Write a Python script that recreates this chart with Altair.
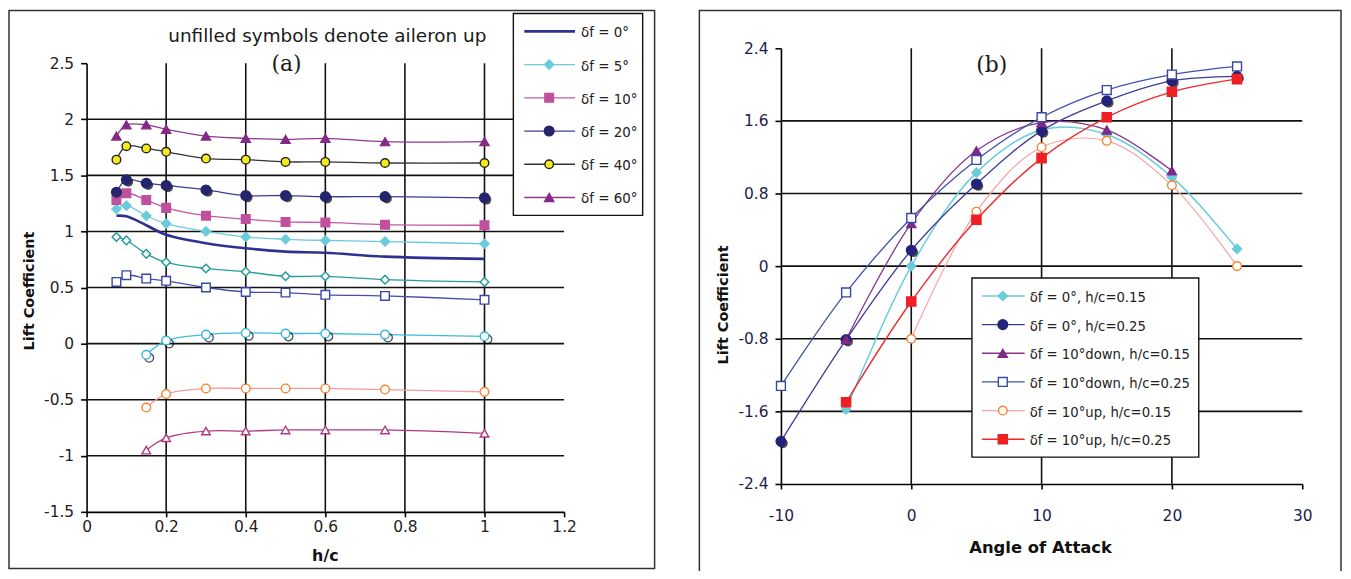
import altair as alt
import pandas as pd

# ---------------- Panel (a): lift coefficient vs h/c ----------------
hc = [0.075, 0.1, 0.15, 0.2, 0.3, 0.4, 0.5, 0.6, 0.75, 1.0]
hc_up = [0.15, 0.2, 0.3, 0.4, 0.5, 0.6, 0.75, 1.0]
a_df0 = [1.14, 1.135, 1.055, 0.97, 0.895, 0.85, 0.82, 0.81, 0.775, 0.755]
a_df5 = [1.20, 1.23, 1.14, 1.07, 1.00, 0.95, 0.93, 0.92, 0.91, 0.89]
a_df10 = [1.28, 1.34, 1.28, 1.21, 1.14, 1.11, 1.085, 1.08, 1.06, 1.055]
a_df20 = [1.35, 1.46, 1.43, 1.41, 1.37, 1.32, 1.32, 1.31, 1.31, 1.30]
a_df40 = [1.64, 1.76, 1.74, 1.71, 1.65, 1.64, 1.62, 1.62, 1.61, 1.61]
a_df60 = [1.85, 1.95, 1.95, 1.91, 1.85, 1.83, 1.82, 1.83, 1.80, 1.80]
a_up_diamond = [0.95, 0.92, 0.80, 0.725, 0.67, 0.64, 0.60, 0.60, 0.57, 0.55]
a_up_square = [0.55, 0.61, 0.58, 0.56, 0.50, 0.46, 0.455, 0.435, 0.425, 0.39]
a_up_circle_cyan = [-0.10, 0.027, 0.08, 0.095, 0.09, 0.09, 0.08, 0.065]
a_up_circle_orange = [-0.57, -0.45, -0.40, -0.40, -0.40, -0.40, -0.41, -0.43]
a_up_triangle = [-0.95, -0.84, -0.78, -0.78, -0.77, -0.77, -0.77, -0.80]
a_legend_labels = ["δf = 0°", "δf = 5°", "δf = 10°", "δf = 20°", "δf = 40°", "δf = 60°"]
a_xticks = [0, 0.2, 0.4, 0.6, 0.8, 1.0, 1.2]
a_yticks = [-1.5, -1, -0.5, 0, 0.5, 1, 1.5, 2, 2.5]
a_xgrid = [0.2, 0.4, 0.6, 0.8, 1.0]
a_ygrid = [-1, -0.5, 0, 0.5, 1, 1.5, 2]

# ---------------- Panel (b): lift coefficient vs angle of attack ----------------
aoa = [-10, -5, 0, 5, 10, 15, 20, 25]
b_df0_h15 = [None, -1.58, 0.0, 1.03, 1.50, 1.45, 0.98, 0.19]
b_df0_h25 = [-1.93, -0.81, 0.175, 0.905, 1.49, 1.82, 2.04, 2.09]
b_down_h15 = [None, -0.81, 0.47, 1.27, 1.58, 1.50, 1.05, None]
b_down_h25 = [-1.32, -0.29, 0.53, 1.17, 1.64, 1.94, 2.11, 2.20]
b_up_h15 = [None, None, -0.80, 0.60, 1.31, 1.38, 0.89, 0.0]
b_up_h25 = [None, -1.50, -0.39, 0.51, 1.19, 1.64, 1.92, 2.06]
b_legend_labels = ["δf = 0°, h/c=0.15", "δf = 0°, h/c=0.25", "δf = 10°down, h/c=0.15",
                   "δf = 10°down, h/c=0.25", "δf = 10°up, h/c=0.15", "δf = 10°up, h/c=0.25"]
b_xticks = [-10, 0, 10, 20, 30]
b_yticks = [-2.4, -1.6, -0.8, 0, 0.8, 1.6, 2.4]
b_xgrid = [0, 10, 20]
b_ygrid = [-1.6, -0.8, 0, 0.8, 1.6]

# ---------------- styles (kept apart from the data) ----------------
# name, xs, ys, line colour, line width, shape, fill, stroke, size, shadow
A_SERIES = [
    ("a0", hc, a_df0, "#2E3192", 2.6, None, None, None, 0, ""),
    ("a5", hc, a_df5, "#6ACBDC", 1.3, "diamond", "#6ACBDC", "#6ACBDC", 85, ""),
    ("a10", hc, a_df10, "#C45AA5", 1.3, "square", "#C0509E", "#C0509E", 75, ""),
    ("a20", hc, a_df20, "#3C3C96", 1.3, "circle", "#25256E", "#25256E", 95, "fill"),
    ("a40", hc, a_df40, "#333333", 1.3, "circle", "#F4EB1F", "#222222", 75, ""),
    ("a60", hc, a_df60, "#8E3A90", 1.3, "triangle-up", "#842A86", "#842A86", 85, ""),
    ("au5", hc, a_up_diamond, "#23A09C", 1.3, "diamond", "white", "#1E9A96", 75, ""),
    ("au10", hc, a_up_square, "#4550AA", 1.3, "square", "white", "#3A45A8", 75, ""),
    ("auc", hc_up, a_up_circle_cyan, "#3DBCE3", 1.3, "circle", "white", "#35B5E0", 75, "open"),
    ("auo", hc_up, a_up_circle_orange, "#F59A9A", 1.3, "circle", "white", "#F7832E", 75, ""),
    ("aut", hc_up, a_up_triangle, "#B03A80", 1.3, "triangle-up", "white", "#B03A80", 75, ""),
]
B_SERIES = [
    ("b1", aoa, b_df0_h15, "#6ACBDC", 1.5, "diamond", "#6ACBDC", "#6ACBDC", 85, ""),
    ("b2", aoa, b_df0_h25, "#3B3B98", 1.3, "circle", "#23237A", "#23237A", 95, "fill"),
    ("b3", aoa, b_down_h15, "#87358E", 1.3, "triangle-up", "#7E2A88", "#7E2A88", 85, ""),
    ("b4", aoa, b_down_h25, "#4250AC", 1.3, "square", "white", "#3845A8", 80, ""),
    ("b5", aoa, b_up_h15, "#F7A5A5", 1.2, "circle", "white", "#F7832E", 75, ""),
    ("b6", aoa, b_up_h25, "#EE2A2E", 1.4, "square", "#EE2024", "#EE2024", 85, ""),
]


def long_frame(series):
    rows = []
    for name, xs, ys, lc, lw, shp, fil, stk, sz, shd in series:
        for i, (x, y) in enumerate(zip(xs, ys)):
            if y is None:
                continue
            rows.append(dict(s=name, i=i, x=x, y=y, lc=lc, lw=lw, shp=shp or "",
                             fil=fil or "", stk=stk or "", sz=sz, shd=shd))
    return pd.DataFrame(rows)


FONT = "DejaVu Sans"
GRID = "#111111"


def panel(series, xdom, xrange, ydom, yrange, xticks, yticks, xgrid, ygrid,
          xoff, yoff, xpad, ylabel_expr, label_color):
    xs = alt.Scale(domain=xdom, range=xrange, nice=False, zero=False)
    ys = alt.Scale(domain=ydom, range=yrange, nice=False, zero=False)
    axis_common = dict(domainColor="black", domainWidth=1.6, tickColor="black", tickWidth=1.6,
                       labelFont=FONT, labelFontSize=15.5, labelColor=label_color,
                       labelFlush=False, labelOverlap=False, labelBound=False,
                       grid=False, title=None)
    xaxis = alt.Axis(orient="bottom", offset=xoff, values=xticks, tickSize=5,
                     labelPadding=xpad, labelExpr="toString(datum.value)", **axis_common)
    yaxis = alt.Axis(orient="left", offset=yoff, values=yticks, tickSize=6, labelPadding=7,
                     labelExpr=ylabel_expr, **axis_common)

    def X(f):
        return alt.X(f, scale=xs, axis=xaxis)

    def Y(f):
        return alt.Y(f, scale=ys, axis=yaxis)

    vg = pd.DataFrame({"gx": xgrid, "y1": [ydom[0]] * len(xgrid), "y2": [ydom[1]] * len(xgrid)})
    hg = pd.DataFrame({"gy": ygrid, "x1": [xdom[0]] * len(ygrid), "x2": [xdom[1]] * len(ygrid)})

    vgrid = alt.Chart(vg).mark_rule(color=GRID, strokeWidth=1.6).encode(
        x=X("gx:Q"), y=Y("y1:Q"), y2="y2:Q")
    hgrid = alt.Chart(hg).mark_rule(color=GRID, strokeWidth=1.6).encode(
        y=Y("gy:Q"), x=X("x1:Q"), x2="x2:Q")
    df = long_frame(series)
    lines = alt.Chart(df).mark_line(interpolate="catmull-rom").encode(
        x=X("x:Q"), y=Y("y:Q"),
        detail="s:N",
        order="i:Q",
        color=alt.Color("lc:N", scale=None),
        strokeWidth=alt.StrokeWidth("lw:Q", scale=None),
    )
    pts_df = df[df["shp"] != ""]
    sh_fill = pts_df[pts_df["shd"] == "fill"]
    sh_open = pts_df[pts_df["shd"] == "open"]
    layers = [vgrid, hgrid, lines]
    if len(sh_fill):
        layers.append(alt.Chart(sh_fill).mark_point(filled=True, color="black", xOffset=2, yOffset=2,
                                                    strokeWidth=1).encode(
            x=X("x:Q"), y=Y("y:Q"),
            shape=alt.Shape("shp:N", scale=None), size=alt.Size("sz:Q", scale=None)))
    if len(sh_open):
        layers.append(alt.Chart(sh_open).mark_point(filled=False, color="black", xOffset=3, yOffset=3,
                                                    strokeWidth=1.3).encode(
            x=X("x:Q"), y=Y("y:Q"),
            shape=alt.Shape("shp:N", scale=None), size=alt.Size("sz:Q", scale=None)))
    layers.append(alt.Chart(pts_df).mark_point(filled=True, strokeWidth=1.4, opacity=1).encode(
        x=X("x:Q"), y=Y("y:Q"),
        shape=alt.Shape("shp:N", scale=None),
        fill=alt.Fill("fil:N", scale=None),
        stroke=alt.Stroke("stk:N", scale=None),
        size=alt.Size("sz:Q", scale=None),
    ))
    return alt.layer(*layers)


W, H = 1342, 563

panel_a = panel(A_SERIES, [0, 1.2], [79, 559], [-1.5, 2.5], [505, 54], a_xticks, a_yticks,
                a_xgrid, a_ygrid, 505 - H, -79, 3, "toString(datum.value)", "#222222")
panel_b = panel(B_SERIES, [-10, 30], [777, 1301], [-2.4, 2.4], [477, 39], b_xticks, b_yticks,
                b_xgrid, b_ygrid, 477 - H, -777, 20,
                "datum.value == 0 ? '0' : toString(datum.value)", "#1C1C4A")


def legend(series, labels, box, x_line, x_mark, x_text, y0, step, fsize):
    rows = []
    for k, (st, lab) in enumerate(zip(series, labels)):
        name, xs, ys, lc, lw, shp, fil, stk, sz, shd = st
        rows.append(dict(lab=lab, ly=y0 + k * step, lc=lc, lw=min(lw, 2.6), shp=shp or "",
                         fil=fil or "", stk=stk or "", sz=sz))
    ld = pd.DataFrame(rows)
    one = pd.DataFrame({"k": [0]})
    bx = alt.Chart(one).mark_rect(fill="white", stroke="#111111", strokeWidth=1.4).encode(
        x=alt.value(box[0]), x2=alt.value(box[2]), y=alt.value(box[1]), y2=alt.value(box[3]))
    ln = alt.Chart(ld).mark_rule().encode(
        x=alt.value(x_line[0]), x2=alt.value(x_line[1]),
        y=alt.Y("ly:Q", scale=None),
        color=alt.Color("lc:N", scale=None),
        strokeWidth=alt.StrokeWidth("lw:Q", scale=None))
    pt = alt.Chart(ld[ld["shp"] != ""]).mark_point(filled=True, strokeWidth=1.4, opacity=1).encode(
        x=alt.value(x_mark), y=alt.Y("ly:Q", scale=None),
        shape=alt.Shape("shp:N", scale=None), fill=alt.Fill("fil:N", scale=None),
        stroke=alt.Stroke("stk:N", scale=None), size=alt.Size("sz:Q", scale=None))
    tx = alt.Chart(ld).mark_text(align="left", baseline="middle", font=FONT, fontSize=fsize,
                                 color="#222222", dy=2).encode(
        x=alt.value(x_text), y=alt.Y("ly:Q", scale=None), text="lab:N")
    return alt.layer(bx, ln, pt, tx)


legend_a = legend(A_SERIES[:6], a_legend_labels, (508, 4, 638, 207), (519, 570), 544, 576, 22, 33.4, 13.5)
legend_b = legend(B_SERIES, b_legend_labels, (969, 270, 1197, 450), (979, 1022), 1000, 1027, 288, 28.8, 13.3)

one = pd.DataFrame({"k": [0]})
frames = alt.layer(
    alt.Chart(one).mark_rect(fillOpacity=0, stroke="#333333", strokeWidth=1.5).encode(
        x=alt.value(1), x2=alt.value(650), y=alt.value(1), y2=alt.value(562)),
    alt.Chart(one).mark_rect(fillOpacity=0, stroke="#333333", strokeWidth=1.5).encode(
        x=alt.value(695), x2=alt.value(1340), y=alt.value(1), y2=alt.value(575)),
)


def label(text, x, y, size, bold=False, angle=0, font=FONT, color="#111111"):
    kw = dict(text=text, font=font, fontSize=size, align="center", baseline="middle", color=color)
    if bold:
        kw["fontWeight"] = "bold"
    if angle:
        kw["angle"] = angle
    return alt.Chart(one).mark_text(**kw).encode(x=alt.value(x), y=alt.value(y))


texts = alt.layer(
    label("unfilled symbols denote aileron up", 321, 27, 18.5, color="#1a1a1a"),
    label("(a)", 280, 55, 22, font="DejaVu Serif", color="#1a1a1a"),
    label("(b)", 989, 56, 22, font="DejaVu Serif", color="#1a1a1a"),
    label("Lift Coefficient", 22, 283, 14.5, bold=True, angle=270),
    label("Lift Coefficient", 720, 297, 14.5, bold=True, angle=270),
    label("h/c", 319, 549, 16, bold=True),
    label("Angle of Attack", 1038, 541, 16.5, bold=True),
)

chart = alt.layer(frames, panel_a, panel_b, legend_a, legend_b, texts).resolve_scale(
    x="independent", y="independent"
).properties(
    width=W, height=H, padding=0, autosize="none", background="white"
).configure_view(stroke=None)

chart.save("out.html", embed_options={"renderer": "svg", "actions": False})
